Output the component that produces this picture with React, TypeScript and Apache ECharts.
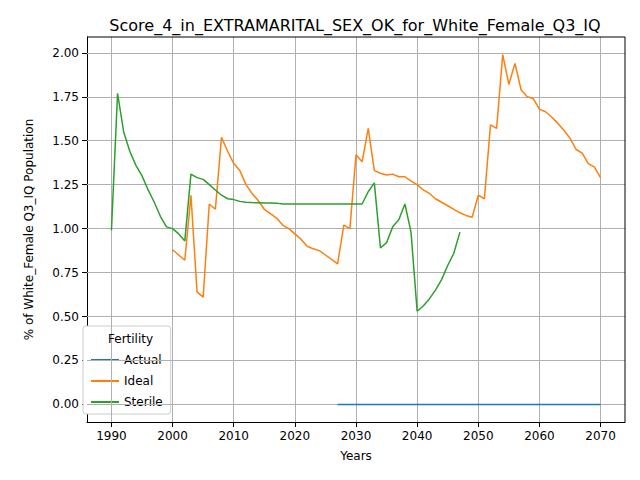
import React, { useEffect, useRef } from "react";
import * as echarts from "echarts";

const actualStart = 2027;
const actualValues: number[] = Array(44).fill(0);

const idealStart = 2000;
const idealValues = [
  0.88, 0.85, 0.82, 1.19, 0.64, 0.61, 1.14, 1.11, 1.52, 1.44,
  1.37, 1.33, 1.25, 1.2, 1.16, 1.11, 1.085, 1.06, 1.02, 1.0,
  0.97, 0.94, 0.9, 0.885, 0.875, 0.85, 0.825, 0.8, 1.02, 1.0,
  1.42, 1.38, 1.57, 1.33, 1.315, 1.305, 1.31, 1.295, 1.295, 1.27,
  1.25, 1.22, 1.2, 1.17, 1.15, 1.13, 1.11, 1.09, 1.075, 1.065,
  1.19, 1.17, 1.59, 1.57, 1.99, 1.82, 1.94, 1.79, 1.75, 1.74,
  1.68, 1.665, 1.635, 1.6, 1.56, 1.515, 1.45, 1.43, 1.37, 1.35, 1.29,
];

const sterileStart = 1990;
const sterileValues = [
  0.99, 1.77, 1.55, 1.44, 1.36, 1.3, 1.22, 1.15, 1.07, 1.01,
  1.0, 0.97, 0.93, 1.31, 1.29, 1.28, 1.25, 1.22, 1.19, 1.17,
  1.165, 1.155, 1.15, 1.148, 1.147, 1.146, 1.146, 1.145, 1.14, 1.14,
  1.14, 1.14, 1.14, 1.14, 1.14, 1.14, 1.14, 1.14, 1.14, 1.14,
  1.14, 1.14, 1.21, 1.26, 0.89, 0.92, 1.01, 1.05, 1.14, 0.98,
  0.53, 0.56, 0.6, 0.65, 0.71, 0.79, 0.86, 0.98,
];

const xTicks = [1990, 2000, 2010, 2020, 2030, 2040, 2050, 2060, 2070];
const yTicks = [0, 0.25, 0.5, 0.75, 1, 1.25, 1.5, 1.75, 2];

const toPairs = (start: number, vals: number[]) => vals.map((v, i) => [start + i, v]);

export default function App() {
  const ref = useRef<HTMLDivElement>(null);
  useEffect(() => {
    const chart = echarts.init(ref.current!, undefined, { renderer: "svg" });
    const font = "DejaVu Sans";
    const gridLine = { color: "#b0b0b0", type: "solid", width: 1 };
    chart.setOption({
      animation: false,
      textStyle: { fontFamily: font },
      title: {
        text: "Score_4_in_EXTRAMARITAL_SEX_OK_for_White_Female_Q3_IQ",
        left: 350, top: 12, textAlign: "center",
        textStyle: { fontSize: 16, fontWeight: "normal", color: "#000", fontFamily: font },
      },
      grid: { left: 87, right: 15, top: 37, bottom: 58 },
      xAxis: {
        type: "value", min: 1986, max: 2074,
        name: "Years", nameLocation: "middle", nameGap: 28,
        nameTextStyle: { fontSize: 12, color: "#000" },
        axisLine: { onZero: false, lineStyle: { color: "#000" } },
        axisTick: { show: true, customValues: xTicks, lineStyle: { color: "#000" } },
        axisLabel: { color: "#000", fontSize: 12, customValues: xTicks, formatter: (v: number) => String(v) },
        splitLine: { show: false },
      },
      yAxis: {
        type: "value", min: -0.1, max: 2.09,
        name: "% of White_Female Q3_IQ Population", nameLocation: "middle", nameGap: 52,
        nameTextStyle: { fontSize: 12, color: "#000" },
        axisLine: { show: true, lineStyle: { color: "#000" } },
        axisTick: { show: true, customValues: yTicks, lineStyle: { color: "#000" } },
        axisLabel: { color: "#000", fontSize: 12, customValues: yTicks, formatter: (v: number) => v.toFixed(2) },
        splitLine: { show: false },
      },
      legend: {
        left: 83, bottom: 66, orient: "vertical",
        backgroundColor: "#fff", borderColor: "#ccc", borderWidth: 1, borderRadius: 3,
        padding: [28, 8, 6, 8], itemWidth: 28, itemHeight: 2, itemGap: 9,
        textStyle: { fontSize: 12, color: "#000" },
        icon: "rect",
        data: ["Actual", "Ideal", "Sterile"],
      },
      series: [
        {
          type: "line", name: "grid", silent: true, data: [], z: 1,
          markLine: {
            silent: true, symbol: "none", label: { show: false }, lineStyle: gridLine,
            data: [...xTicks.map((x) => ({ xAxis: x })), ...yTicks.map((v) => ({ yAxis: v }))],
          },
        },
        { type: "line", name: "Actual", z: 5, data: toPairs(actualStart, actualValues), showSymbol: false, lineStyle: { width: 1.5, color: "#1f77b4" }, itemStyle: { color: "#1f77b4" } },
        { type: "line", name: "Ideal", z: 5, data: toPairs(idealStart, idealValues), showSymbol: false, lineStyle: { width: 1.5, color: "#ff7f0e" }, itemStyle: { color: "#ff7f0e" } },
        { type: "line", name: "Sterile", z: 5, data: toPairs(sterileStart, sterileValues), showSymbol: false, lineStyle: { width: 1.5, color: "#2ca02c" }, itemStyle: { color: "#2ca02c" } },
      ],
      graphic: [
        { type: "line", shape: { x1: 87, y1: 37, x2: 625, y2: 37 }, style: { stroke: "#000", lineWidth: 1 }, z: 10 },
        { type: "line", shape: { x1: 625, y1: 37, x2: 625, y2: 422 }, style: { stroke: "#000", lineWidth: 1 }, z: 10 },
        { type: "text", left: 108, top: 333, style: { text: "Fertility", fontSize: 12, fill: "#000", fontFamily: font }, z: 100 },
      ],
    });
    return () => chart.dispose();
  }, []);
  return <div ref={ref} style={{ width: 640, height: 480, margin: -8 }} />;
}
